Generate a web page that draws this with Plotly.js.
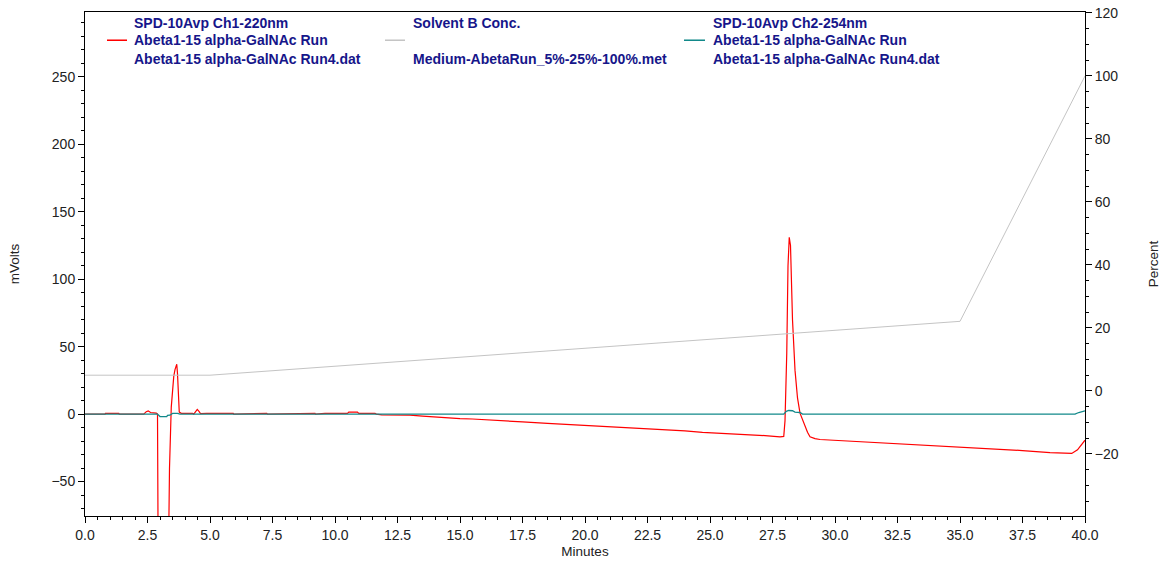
<!DOCTYPE html>
<html>
<head>
<meta charset="utf-8">
<script src="https://cdn.plot.ly/plotly-3.0.1.min.js"></script>
<style>
  html, body { margin: 0; padding: 0; background: #fff; }
  #chart { width: 1167px; height: 565px; }
</style>
</head>
<body>
<div id="chart"></div>
<script>
// Channel 1 (220 nm) detector trace, mV
const ch1Minutes = [0.0, 0.8, 0.82, 1.35, 1.37, 2.35, 2.45, 2.53, 2.62, 2.85, 2.9, 2.93, 3.33, 3.38, 3.45, 3.5, 3.55, 3.6, 3.67, 3.7, 3.73, 3.77, 3.85, 4.3, 4.35, 4.42, 4.49, 4.56, 4.62, 4.87, 5.93, 5.95, 6.67, 7.27, 7.3, 8.67, 9.2, 9.22, 9.6, 10.5, 10.55, 10.9, 10.95, 11.6, 11.65, 11.87, 12.2, 12.5, 13.0, 13.5, 14.1, 15.0, 15.5, 16.0, 16.7, 17.5, 18.5, 19.4, 20.5, 21.3, 22.1, 23.0, 24.0, 24.7, 25.5, 26.5, 27.2, 27.8, 27.95, 28.0, 28.07, 28.12, 28.17, 28.22, 28.3, 28.4, 28.5, 28.6, 28.7, 28.8, 28.9, 29.0, 29.2, 29.4, 30.6, 31.8, 33.0, 34.6, 36.0, 37.5, 38.6, 39.47, 39.7, 40.0];
const ch1mV = [0, 0, 0.6, 0.6, 0, 0, 1.8, 2.4, 1.2, 0.8, 0, -120, -120, -40, 5, 20, 28, 33, 37, 30, 10, 1.5, 0.6, 0.6, 0, 2, 3.5, 2, 0.4, 0.6, 0.6, 0, 0.6, 0.6, 0, 0.6, 0.6, 0, 0.6, 0.6, 1.5, 1.5, 0.6, 0.6, 0, -0.5, -0.5, -0.3, -0.8, -1.5, -2.4, -3.3, -3.6, -4.2, -5.2, -5.8, -6.8, -7.7, -8.6, -9.3, -10.1, -11.2, -12.4, -13.6, -14.2, -15.3, -15.9, -16.8, -16.5, -5, 45, 110, 131, 125, 70, 32.6, 12, 0.7, -4, -9.4, -13.5, -16.8, -18.2, -18.8, -20, -21.3, -22.3, -24.2, -25.5, -27, -28.6, -29.1, -26.5, -19.3];

// Channel 2 (254 nm) detector trace, mV
const ch2Minutes = [0.0, 2.9, 3.0, 3.27, 3.3, 3.4, 3.5, 3.7, 3.8, 27.95, 28.05, 28.15, 28.3, 28.4, 28.6, 28.7, 39.6, 39.75, 40.0];
const ch2mV = [0, 0, -1.8, -1.8, -1, -0.8, 0.5, 0.6, 0, 0, 2, 2.7, 2.5, 1.5, 1.2, 0, 0, 1.2, 2.4];

// Solvent B gradient program, percent
const gradMinutes = [0, 5, 35, 40];
const gradPercent = [5, 5, 22.1, 100];

// Legend text, one column per trace
const legendCol1 = ["SPD-10Avp Ch1-220nm", "Abeta1-15 alpha-GalNAc Run", "Abeta1-15 alpha-GalNAc Run4.dat"];
const legendCol2 = ["Solvent B Conc.", "", "Medium-AbetaRun_5%-25%-100%.met"];
const legendCol3 = ["SPD-10Avp Ch2-254nm", "Abeta1-15 alpha-GalNAc Run", "Abeta1-15 alpha-GalNAc Run4.dat"];

const RED = "#ff0000", TEAL = "#12898a", GRAY = "#c4c4c4", NAVY = "#16168a";

const traces = [
  { x: gradMinutes, y: gradPercent, yaxis: "y2", mode: "lines", line: { color: GRAY, width: 1 }, hoverinfo: "skip" },
  { x: ch1Minutes, y: ch1mV, mode: "lines", line: { color: RED, width: 1.2 } },
  { x: ch2Minutes, y: ch2mV, mode: "lines", line: { color: TEAL, width: 1.3 } }
];

// Legend placement in plot-fraction units
const colX = [0.047, 0.326, 0.626];
const rowY = [0.978, 0.944, 0.906];
const swatch = [[0.022, 0.042, RED], [0.300, 0.320, GRAY], [0.599, 0.620, TEAL]];

const annotations = [];
[legendCol1, legendCol2, legendCol3].forEach((col, ci) => {
  col.forEach((txt, ri) => {
    if (!txt) return;
    annotations.push({
      xref: "paper", yref: "paper", x: colX[ci], y: rowY[ri],
      xanchor: "left", yanchor: "middle", showarrow: false, text: txt,
      font: { family: "Liberation Sans, Arial, sans-serif", size: 14, color: NAVY, weight: "bold" }
    });
  });
});

const shapes = swatch.map(s => ({
  type: "line", xref: "paper", yref: "paper", x0: s[0], x1: s[1], y0: rowY[1], y1: rowY[1],
  line: { color: s[2], width: 1.5 }
}));

const tickFont = { family: "Liberation Sans, Arial, sans-serif", size: 14, color: "#222" };
const titleFont = { family: "Liberation Sans, Arial, sans-serif", size: 13.5, color: "#222" };

const layout = {
  width: 1167, height: 565,
  margin: { l: 85, r: 82, t: 12, b: 49 },
  paper_bgcolor: "#fff", plot_bgcolor: "#fff",
  showlegend: false,
  xaxis: {
    range: [0, 40], tickmode: "linear", tick0: 0, dtick: 2.5, tickformat: ".1f",
    ticks: "outside", ticklen: 6, tickcolor: "#000", showgrid: false, zeroline: false,
    showline: true, linecolor: "#000", linewidth: 1, mirror: true,
    minor: { dtick: 0.5, ticks: "outside", ticklen: 3, tickcolor: "#000", showgrid: false },
    tickfont: tickFont,
    title: { text: "Minutes", font: titleFont, standoff: 4 }
  },
  yaxis: {
    range: [-75.5, 298], tickmode: "linear", tick0: 0, dtick: 50,
    ticks: "outside", ticklen: 6, tickcolor: "#000", showgrid: false, zeroline: false,
    showline: true, linecolor: "#000", linewidth: 1,
    minor: { dtick: 10, ticks: "outside", ticklen: 3, tickcolor: "#000", showgrid: false },
    tickfont: tickFont,
    title: { text: "mVolts", font: titleFont, standoff: 28 }
  },
  yaxis2: {
    range: [-39.7, 120.3], overlaying: "y", side: "right", tickmode: "linear", tick0: 0, dtick: 20,
    ticks: "outside", ticklen: 6, tickcolor: "#000", showgrid: false, zeroline: false,
    showline: true, linecolor: "#000", linewidth: 1,
    minor: { dtick: 5, ticks: "outside", ticklen: 3, tickcolor: "#000", showgrid: false },
    tickfont: tickFont,
    title: { text: "Percent", font: titleFont, standoff: 30 }
  },
  annotations: annotations,
  shapes: shapes
};

Plotly.newPlot("chart", traces, layout, { displayModeBar: false, staticPlot: true });
</script>
</body>
</html>
